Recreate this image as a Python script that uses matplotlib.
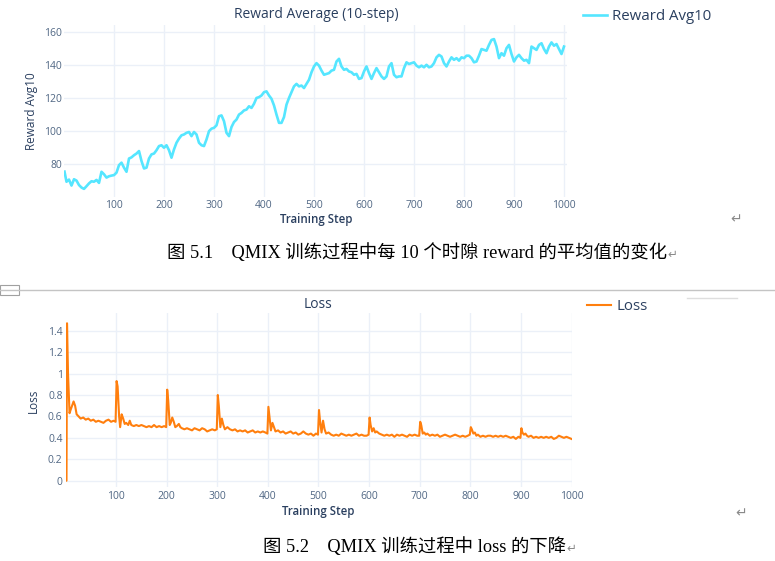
import numpy as np
import matplotlib.pyplot as plt

# ---- reward (10-step average), read every 5 steps ----
reward_steps = [1] + list(range(5, 1001, 5))
reward_avg10 = [
    75.6, 69.5, 70.8, 67.2, 71.0, 70.2, 67.5, 66.0, 65.2, 66.8,
    68.5, 69.8, 69.5, 70.6, 68.8, 75.5, 74.0, 72.0, 72.8, 73.2,
    73.5, 75.0, 79.5, 81.0, 78.0, 75.5, 83.5, 84.2, 85.5, 86.5,
    88.0, 82.0, 77.5, 78.0, 83.5, 86.0, 86.5, 88.5, 91.0, 91.5,
    90.0, 91.5, 88.5, 84.0, 89.0, 93.0, 95.5, 97.5, 98.0, 99.0,
    99.5, 97.0, 99.5, 98.0, 93.0, 91.5, 91.0, 95.0, 100.0, 101.5,
    102.0, 103.5, 109.0, 109.5, 106.0, 99.0, 97.0, 102.5, 105.5, 107.0,
    110.0, 111.0, 112.5, 113.0, 115.0, 114.0, 116.5, 120.0, 120.5, 121.5,
    123.5, 124.0, 121.5, 119.5, 115.5, 110.0, 105.0, 105.0, 108.5, 116.0,
    120.0, 123.5, 127.0, 128.5, 127.0, 127.5, 126.0, 128.5, 131.0, 135.5,
    139.0, 141.0, 139.5, 136.5, 134.0, 134.5, 135.0, 136.5, 137.0, 142.0,
    143.6, 139.0, 137.0, 137.5, 136.0, 135.5, 134.0, 134.5, 131.5, 132.0,
    136.0, 139.0, 135.0, 131.5, 135.0, 138.0, 135.5, 133.0, 131.5, 133.0,
    139.0, 141.0, 134.0, 132.5, 133.0, 133.0, 138.0, 141.5, 140.5, 141.0,
    141.5, 139.5, 138.5, 139.5, 138.5, 140.0, 138.5, 139.0, 141.0, 144.5,
    146.0, 145.0, 141.0, 139.0, 142.0, 144.5, 143.0, 144.0, 142.5, 144.5,
    144.0, 145.5, 145.5, 144.0, 141.5, 142.0, 145.5, 149.5, 149.0, 148.5,
    152.0, 155.0, 155.5, 151.0, 144.0, 147.0, 145.5, 150.0, 152.0, 146.5,
    142.0, 144.5, 146.0, 144.0, 142.5, 143.0, 141.0, 151.0, 150.0, 149.0,
    152.0, 153.0, 149.5, 147.0, 151.0, 153.5, 151.5, 152.5, 149.5, 146.5,
    151.0,
]

# ---- loss ----
loss_steps = [
    1, 2, 3, 5, 8, 10, 13, 16, 19, 22, 26, 30, 35, 40, 45, 50, 55, 60, 65, 70,
    75, 80, 85, 90, 95, 99, 101, 103, 106, 108, 111, 114, 117, 120, 124, 127, 130,
    135, 140, 145, 150, 155, 160, 165, 170, 175, 180, 185, 190, 195, 199,
    201, 203, 206, 208, 211, 214, 217, 220, 224, 227, 230, 235, 240, 245, 250,
    255, 260, 265, 270, 275, 280, 285, 290, 295, 299,
    301, 303, 306, 309, 312, 315, 320, 325, 330, 335, 340, 345, 350, 355, 360,
    365, 370, 375, 380, 385, 390, 395, 399,
    401, 403, 406, 409, 412, 415, 420, 425, 430, 435, 440, 445, 450, 455, 460,
    465, 470, 475, 480, 485, 490, 495, 499,
    501, 503, 506, 509, 512, 515, 520, 525, 530, 535, 540, 545, 550, 555, 560,
    565, 570, 575, 580, 585, 590, 595, 599,
    601, 603, 606, 609, 612, 615, 620, 625, 630, 635, 640, 645, 650, 655, 660,
    665, 670, 675, 680, 685, 690, 695, 699,
    701, 703, 706, 709, 712, 715, 720, 725, 730, 735, 740, 745, 750, 755, 760,
    765, 770, 775, 780, 785, 790, 795, 799,
    801, 803, 806, 809, 812, 815, 820, 825, 830, 835, 840, 845, 850, 855, 860,
    865, 870, 875, 880, 885, 890, 895, 899,
    901, 903, 906, 909, 912, 915, 920, 925, 930, 935, 940, 945, 950, 955, 960,
    965, 970, 975, 980, 985, 990, 995, 1000,
]
loss_values = [
    0.0, 0.0, 1.47, 1.0, 0.63, 0.66, 0.70, 0.74, 0.70, 0.62, 0.60, 0.58, 0.59, 0.57, 0.58,
    0.56, 0.57, 0.55, 0.56, 0.55, 0.54, 0.56, 0.57, 0.55, 0.56, 0.55, 0.93, 0.88, 0.60, 0.50,
    0.62, 0.58, 0.53, 0.54, 0.52, 0.56, 0.52, 0.51, 0.52, 0.51, 0.52, 0.51, 0.50, 0.51, 0.50,
    0.52, 0.50, 0.51, 0.50, 0.51, 0.50,
    0.85, 0.75, 0.52, 0.54, 0.59, 0.55, 0.50, 0.51, 0.53, 0.50, 0.49, 0.48, 0.49, 0.48, 0.47,
    0.49, 0.48, 0.47, 0.49, 0.48, 0.46, 0.47, 0.48, 0.47, 0.48,
    0.80, 0.70, 0.50, 0.58, 0.52, 0.48, 0.50, 0.48, 0.47, 0.48, 0.46, 0.47, 0.46, 0.47, 0.45,
    0.46, 0.47, 0.45, 0.46, 0.45, 0.46, 0.45, 0.44,
    0.69, 0.60, 0.47, 0.54, 0.50, 0.46, 0.47, 0.45, 0.46, 0.44, 0.45, 0.46, 0.44, 0.45, 0.43,
    0.44, 0.46, 0.44, 0.43, 0.44, 0.42, 0.44, 0.43,
    0.66, 0.56, 0.45, 0.56, 0.48, 0.44, 0.45, 0.43, 0.42, 0.43, 0.42, 0.44, 0.43, 0.42, 0.43,
    0.42, 0.43, 0.44, 0.42, 0.43, 0.42, 0.42, 0.43,
    0.59, 0.52, 0.46, 0.49, 0.45, 0.46, 0.44, 0.43, 0.42, 0.43, 0.42, 0.43, 0.41, 0.43, 0.42,
    0.43, 0.42, 0.41, 0.43, 0.42, 0.43, 0.42, 0.42,
    0.55, 0.52, 0.44, 0.45, 0.43, 0.44, 0.42, 0.43, 0.42, 0.43, 0.41, 0.42, 0.43, 0.42, 0.41,
    0.42, 0.43, 0.42, 0.41, 0.42, 0.41, 0.42, 0.43,
    0.50, 0.48, 0.44, 0.45, 0.42, 0.43, 0.41, 0.42, 0.41, 0.42, 0.42, 0.41, 0.42, 0.41, 0.42,
    0.41, 0.42, 0.41, 0.40, 0.41, 0.39, 0.41, 0.40,
    0.49, 0.45, 0.43, 0.44, 0.42, 0.41, 0.42, 0.40, 0.41, 0.40, 0.41, 0.40, 0.41, 0.40, 0.41,
    0.39, 0.40, 0.42, 0.41, 0.40, 0.41, 0.40, 0.39,
]

x_ticks = [100, 200, 300, 400, 500, 600, 700, 800, 900, 1000]
reward_yticks = [80, 100, 120, 140, 160]
loss_yticks = [0, 0.2, 0.4, 0.6, 0.8, 1.0, 1.2, 1.4]
loss_ylabels = ['0', '0.2', '0.4', '0.6', '0.8', '1', '1.2', '1.4']

caption1 = '图 5.1\u3000QMIX 训练过程中每 10 个时隙 reward 的平均值的变化'
caption2 = '图 5.2\u3000QMIX 训练过程中 loss 的下降'

W, H = 775, 561
TXT = '#2a3f5f'
TICK = '#506784'
GRID = '#ebf0f8'
plt.rcParams['font.family'] = ['Open Sans', 'DejaVu Sans']

fig = plt.figure(figsize=(W / 100, H / 100), dpi=100)


def fx(x):
    return x / W


def fy(y):
    return 1 - y / H


def make_axes(l, t, r, b):
    ax = fig.add_axes([fx(l), fy(b), fx(r) - fx(l), (b - t) / H])
    for s in ax.spines.values():
        s.set_visible(False)
    ax.grid(True, color=GRID, linewidth=1)
    ax.set_axisbelow(True)
    ax.tick_params(length=0, labelsize=7.5, labelcolor=TICK)
    return ax


# ---- chart 1: reward ----
ax1 = make_axes(64, 25, 567, 197)
ln1, = ax1.plot(reward_steps, reward_avg10, color='#55e6ff', linewidth=1.9,
                label='Reward Avg10')
ax1.set_xlim(0, 1006)
ax1.set_ylim(60.3, 164)
ax1.set_xticks(x_ticks)
ax1.set_yticks(reward_yticks)
ax1.tick_params(axis='y', pad=1.5)
ax1.tick_params(axis='x', pad=2.5)
fig.text(fx(316), fy(15), 'Reward Average (10-step)', ha='center', va='center',
         fontsize=10, color=TXT)
fig.text(fx(316), fy(220), 'Training Step', ha='center', va='center',
         fontsize=8.3, color=TXT, fontweight='semibold')
fig.text(fx(31), fy(111), 'Reward Avg10', ha='center', va='center',
         rotation=90, fontsize=8.5, color=TXT)
fig.legend(handles=[ln1], loc='center left', bbox_to_anchor=(fx(583), fy(17)),
           frameon=False, fontsize=10.8, handlelength=1.6, handletextpad=0.35,
           borderpad=0, borderaxespad=0, labelcolor=TXT)

# ---- chart 2: loss ----
ax2 = make_axes(66, 313.3, 571.5, 486.7)
ln2, = ax2.plot(loss_steps, loss_values, color='#ff7f0e', linewidth=1.5,
                label='Loss')
ax2.set_xlim(1, 1000)
ax2.set_ylim(-0.056, 1.563)
ax2.set_xticks(x_ticks)
ax2.set_yticks(loss_yticks)
ax2.set_yticklabels(loss_ylabels)
ax2.tick_params(axis='y', pad=2.5)
ax2.tick_params(axis='x', pad=3)
fig.text(fx(318), fy(305), 'Loss', ha='center', va='center',
         fontsize=10, color=TXT)
fig.text(fx(318), fy(512), 'Training Step', ha='center', va='center',
         fontsize=8.3, color=TXT, fontweight='semibold')
fig.text(fx(33), fy(401), 'Loss', ha='center', va='center',
         rotation=90, fontsize=8.5, color=TXT)
fig.legend(handles=[ln2], loc='center left', bbox_to_anchor=(fx(587), fy(307)),
           frameon=False, fontsize=10.8, handlelength=1.6, handletextpad=0.35,
           borderpad=0, borderaxespad=0, labelcolor=TXT)

# ---- document bits: captions, separator, paragraph marks ----
cap_font = ['Liberation Serif', 'Noto Sans CJK SC']
mark_col = '#8a8a8a'
c1 = fig.text(fx(167), fy(253), caption1, ha='left', va='center',
              fontsize=13.2, family=cap_font, color='black')
plt.annotate('\u21b5', xy=(1, 0.42), xycoords=c1, ha='left', va='center',
             fontsize=8.5, color=mark_col, family='DejaVu Sans',
             annotation_clip=False)
c2 = fig.text(fx(263), fy(547), caption2, ha='left', va='center',
              fontsize=13.2, family=cap_font, color='black')
plt.annotate('\u21b5', xy=(1, 0.42), xycoords=c2, ha='left', va='center',
             fontsize=8.5, color=mark_col, family='DejaVu Sans',
             annotation_clip=False)
fig.text(fx(736), fy(219), '\u21b5', ha='center', va='center', fontsize=10,
         color=mark_col, family='DejaVu Sans')
fig.text(fx(741), fy(513), '\u21b5', ha='center', va='center', fontsize=10,
         color=mark_col, family='DejaVu Sans')

fig.add_artist(plt.Line2D([0, 1], [fy(290), fy(290)], color='#c4c4c4',
                          linewidth=1, transform=fig.transFigure))
fig.add_artist(plt.Rectangle((0, fy(295)), fx(19), (295 - 285) / H,
                             fill=False, edgecolor='#a0a0a0', linewidth=0.8,
                             transform=fig.transFigure))
fig.add_artist(plt.Line2D([fx(687), fx(737)], [fy(297.5), fy(297.5)],
                          color='#dedede', linewidth=1, transform=fig.transFigure))

fig.savefig('out.png', dpi=100)
